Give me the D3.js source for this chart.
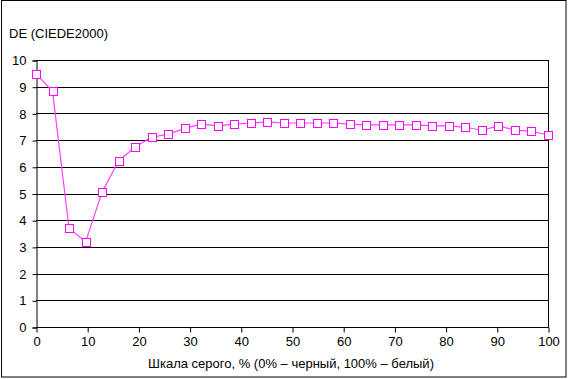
<!DOCTYPE html>
<html><head><meta charset="utf-8">
<script src="https://cdn.jsdelivr.net/npm/d3@7"></script>
<style>body{margin:0;background:#fff;} text{font-family:"Liberation Sans",Arial,sans-serif;font-size:13px;fill:#000;}</style>
</head><body>
<svg id="c" width="568" height="379"></svg>
<script>
const yTitle = "DE (CIEDE2000)";
const xTitle = "Шкала серого, % (0% – черный, 100% – белый)";
const xTicks = [0,10,20,30,40,50,60,70,80,90,100];
const yTicks = [0,1,2,3,4,5,6,7,8,9,10];
const deValues = [9.49,8.83,3.70,3.19,5.05,6.22,6.74,7.11,7.22,7.44,7.60,7.53,7.60,7.64,7.68,7.64,7.64,7.64,7.64,7.60,7.57,7.57,7.57,7.57,7.53,7.53,7.48,7.37,7.53,7.37,7.33,7.19];
const greyPct = deValues.map((d,i)=>i*100/(deValues.length-1));

const svg = d3.select("#c");
svg.append("rect").attr("x",1.5).attr("y",0.5).attr("width",564.5).attr("height",376.5).attr("fill","#fff").attr("stroke","#000");

const x = d3.scaleLinear().domain([0,100]).range([36,548]);
const y = d3.scaleLinear().domain([0,10]).range([327,60]);

// gridlines
svg.append("g").selectAll("line").data(yTicks).join("line")
  .attr("x1",36).attr("x2",548).attr("y1",d=>Math.round(y(d))+0.5).attr("y2",d=>Math.round(y(d))+0.5)
  .attr("stroke","#000");
svg.append("line").attr("x1",548.5).attr("x2",548.5).attr("y1",60).attr("y2",327.5).attr("stroke","#000");

const yAxis = d3.axisLeft(y).tickValues(yTicks).tickSize(4).tickPadding(6).tickFormat(d3.format("d"));
const gy = svg.append("g").attr("transform","translate(36.5,0.5)").call(yAxis);
const xAxis = d3.axisBottom(x).tickValues(xTicks).tickSize(5).tickPadding(4).tickFormat(d3.format("d"));
const gx = svg.append("g").attr("transform","translate(0.5,327.5)").call(xAxis);
[gx,gy].forEach(g=>{g.selectAll("path,line").attr("stroke","#000");g.selectAll("text").attr("font-size",13).attr("font-family","Liberation Sans, Arial, sans-serif");});
gx.select(".domain").attr("d","M36,0H548");

const line = d3.line().x((d,i)=>x(greyPct[i])).y(d=>y(d));
svg.append("path").datum(deValues).attr("d",line).attr("fill","none").attr("stroke","#ff40ff").attr("stroke-width",1.2);

svg.append("g").selectAll("rect").data(deValues).join("rect")
  .attr("x",(d,i)=>Math.round(x(greyPct[i]))-3.5).attr("y",d=>Math.round(y(d))-3.5)
  .attr("width",8).attr("height",8).attr("fill","#fff").attr("stroke","#ff00ff").attr("stroke-width",1);

svg.append("text").attr("x",9).attr("y",38).text(yTitle);
svg.append("text").attr("x",291).attr("y",368).attr("text-anchor","middle").text(xTitle);
</script>
</body></html>
